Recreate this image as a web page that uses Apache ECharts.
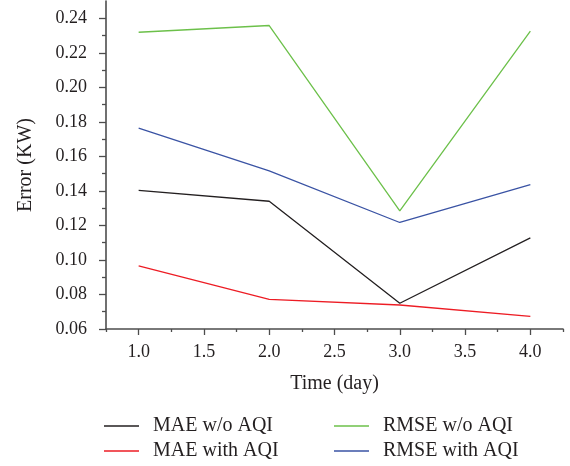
<!DOCTYPE html>
<html><head><meta charset="utf-8">
<script src="https://cdn.jsdelivr.net/npm/echarts@6/dist/echarts.min.js"></script>
<style>html,body{margin:0;padding:0;background:#fff}#c{width:570px;height:466px}</style>
</head><body><div id="c"></div>
<script>
const days = [1.0, 2.0, 3.0, 4.0];
const maeWo = [0.1403, 0.1340, 0.0749, 0.1128];
const maeWith = [0.0965, 0.0772, 0.0739, 0.0673];
const rmseWo = [0.2319, 0.2358, 0.1284, 0.2325];
const rmseWith = [0.1763, 0.1516, 0.1217, 0.1437];
const seriesNames = ['MAE w/o AQI', 'MAE with AQI', 'RMSE w/o AQI', 'RMSE with AQI'];
const xMajor = [1.0, 1.5, 2.0, 2.5, 3.0, 3.5, 4.0];
const xMinor = [0.75, 1.25, 1.75, 2.25, 2.75, 3.25, 3.75, 4.25];
const yMajor = [0.06, 0.08, 0.10, 0.12, 0.14, 0.16, 0.18, 0.20, 0.22, 0.24];
const yMinor = [0.07, 0.09, 0.11, 0.13, 0.15, 0.17, 0.19, 0.21, 0.23];

const FONT = 'Liberation Serif';
const TXT = '#231f20';
const AX = '#4d4d4d';
const COLORS = ['#231f20', '#ed1c24', '#6cc04a', '#3a53a4'];
const pair = (xs, ys) => xs.map((x, i) => [x, ys[i]]);
const chart = echarts.init(document.getElementById('c'));
const lineS = (name, data, color) => ({
  name, type: 'line', data: pair(days, data), symbol: 'none',
  lineStyle: { color, width: 1.3 }, itemStyle: { color }, animation: false
});
const legPos = [[104, 416], [104, 441], [334, 416], [334, 441]];
const legends = seriesNames.map((n, i) => ({
  data: [n], left: legPos[i][0], top: legPos[i][1], padding: 0,
  icon: 'path://M0,0H35V1.4H0Z', itemWidth: 35, itemHeight: 1.4,
  textStyle: { fontFamily: FONT, fontSize: 20, color: TXT, padding: [0, 0, 0, 9] }
}));
chart.setOption({
  animation: false,
  textStyle: { fontFamily: FONT, color: TXT },
  grid: { left: 106, right: 7, top: 1, bottom: 137 },
  xAxis: [{
    type: 'value', min: 0.75, max: 4.25,
    name: 'Time (day)', nameLocation: 'middle', nameGap: 45,
    nameTextStyle: { fontFamily: FONT, fontSize: 20, color: TXT },
    axisLine: { lineStyle: { color: AX, width: 1.6 } },
    axisTick: { customValues: xMajor, length: 6, lineStyle: { color: AX, width: 1.3 } },
    axisLabel: { customValues: xMajor, formatter: v => v.toFixed(1), fontFamily: FONT, fontSize: 18, color: TXT, margin: 14 },
    splitLine: { show: false }
  }, {
    type: 'value', min: 0.75, max: 4.25, position: 'bottom',
    axisLine: { show: false },
    axisTick: { customValues: xMinor, length: 3, lineStyle: { color: AX, width: 1.3 } },
    axisLabel: { show: false }, splitLine: { show: false }
  }],
  yAxis: [{
    type: 'value', min: 0.06, max: 0.25,
    name: 'Error (KW)', nameLocation: 'middle', nameGap: 70,
    nameTextStyle: { fontFamily: FONT, fontSize: 20, color: TXT },
    axisLine: { show: true, lineStyle: { color: AX, width: 1.6 } },
    axisTick: { show: true, customValues: yMajor, length: 7, lineStyle: { color: AX, width: 1.3 } },
    axisLabel: { customValues: yMajor, formatter: v => v.toFixed(2), fontFamily: FONT, fontSize: 18, color: TXT, margin: 19 },
    splitLine: { show: false }
  }, {
    type: 'value', min: 0.06, max: 0.25, position: 'left',
    axisLine: { show: false },
    axisTick: { show: true, customValues: yMinor, length: 4, lineStyle: { color: AX, width: 1.3 } },
    axisLabel: { show: false }, splitLine: { show: false }
  }],
  legend: legends,
  series: [
    lineS(seriesNames[0], maeWo, COLORS[0]),
    lineS(seriesNames[1], maeWith, COLORS[1]),
    lineS(seriesNames[2], rmseWo, COLORS[2]),
    lineS(seriesNames[3], rmseWith, COLORS[3])
  ]
});
</script></body></html>
